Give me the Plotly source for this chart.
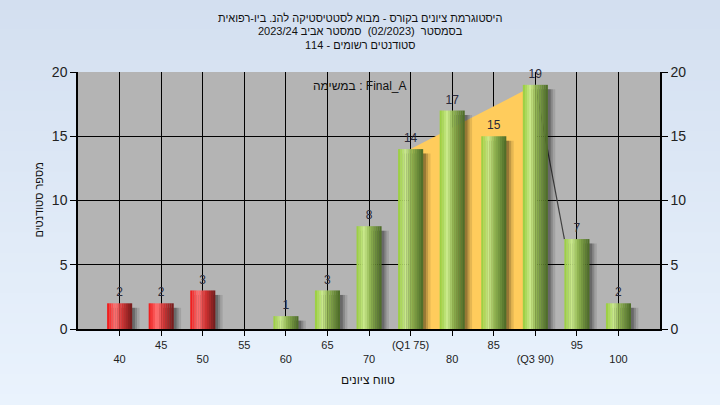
import plotly.graph_objects as go

# ---------------- data ----------------
grades = [40, 45, 50, 55, 60, 65, 70, 75, 80, 85, 90, 95, 100]
counts = [2, 2, 3, 0, 1, 3, 8, 14, 17, 15, 19, 7, 2]
tick_labels = ["40", "45", "50", "55", "60", "65", "70", "(Q1 75)", "80", "85", "(Q3 90)", "95", "100"]
q1_grade = 75
q3_grade = 90
pass_grade = 55

title_lines = [
    "היסטוגרמת ציונים בקורס - מבוא לסטטיסטיקה להנ. ביו-רפואית",
    "בסמסטר\u00a0\u00a0(02/2023)\u00a0\u00a0סמסטר אביב 2023/24",
    "סטודנטים רשומים - 114",
]
task_label = "במשימה : Final_A"
x_title = "טווח ציונים"
y_title = "מספר סטודנטים"

# ---------------- style ----------------
W, H = 720, 405
ML, MR, MT, MB = 78, 60, 72, 76
BAR_W = 3.0
N_STRIPS = 12
LABEL_PAD = 0.3

red_stops = [(0.0, (238, 18, 18)), (0.33, (255, 118, 118)), (0.6, (212, 52, 52)), (1.0, (112, 26, 26))]
green_stops = [(0.0, (150, 204, 58)), (0.3, (202, 234, 140)), (0.55, (142, 178, 80)), (1.0, (74, 104, 38))]


def grad(stops, t):
    for (p0, c0), (p1, c1) in zip(stops[:-1], stops[1:]):
        if p0 <= t <= p1:
            f = (t - p0) / (p1 - p0)
            c = [round(a + (b - a) * f) for a, b in zip(c0, c1)]
            return "rgb(%d,%d,%d)" % tuple(c)
    return "rgb(%d,%d,%d)" % stops[-1][1]


def rtl(s):
    # right-to-left embedding so the line is laid out as Hebrew text
    return "\u202b" + s + "\u202c"


fig = go.Figure()

# ---- IQR area (behind bars, on base subplot) ----
i1 = grades.index(q1_grade)
i3 = grades.index(q3_grade)
fig.add_trace(go.Scatter(
    x=[grades[i1], grades[i3]], y=[counts[i1], counts[i3]],
    mode="lines", line=dict(color="#ffcc5c", width=0),
    fill="tozeroy", fillcolor="#ffcc5c", hoverinfo="skip", showlegend=False,
    xaxis="x", yaxis="y"))

# ---- thin connector line after Q3 ----
fig.add_trace(go.Scatter(
    x=[grades[i3], grades[i3 + 1] - BAR_W / 2], y=[counts[i3], counts[i3 + 1]],
    mode="lines", line=dict(color="#404040", width=1.2),
    hoverinfo="skip", showlegend=False, xaxis="x", yaxis="y"))

# ---- shadows ----
for off, wd, alpha in [(0.9, 3.0, 0.10), (0.6, 3.0, 0.16), (0.35, 3.0, 0.22)]:
    fig.add_trace(go.Bar(
        x=grades, y=[max(c - 0.35, 0) for c in counts], base=0,
        width=wd, offset=-BAR_W / 2 + off,
        marker=dict(color="rgba(0,0,0,%.2f)" % alpha, line=dict(width=0)),
        hoverinfo="skip", showlegend=False, xaxis="x", yaxis="y2"))

# ---- bars as gradient strips ----
sw = BAR_W / N_STRIPS
for k in range(N_STRIPS):
    t = (k + 0.5) / N_STRIPS
    cols = [grad(red_stops, t) if g < pass_grade else grad(green_stops, t) for g in grades]
    fig.add_trace(go.Bar(
        x=grades, y=counts, width=sw * 1.06, offset=-BAR_W / 2 + k * sw,
        marker=dict(color=cols, line=dict(width=0)),
        hoverinfo="skip", showlegend=False, xaxis="x", yaxis="y2"))

# ---- value labels ----
lx = [g for g, c in zip(grades, counts) if c > 0]
ly = [c for c in counts if c > 0]
fig.add_trace(go.Scatter(
    x=lx, y=[c + LABEL_PAD for c in ly], text=[str(c) for c in ly], mode="text",
    textposition="top center", textfont=dict(size=12, color="#2a2a3a", family="Liberation Sans"),
    cliponaxis=False, hoverinfo="skip", showlegend=False, xaxis="x", yaxis="y2"))

# ---------------- background ----------------
shapes = []
NB = 40
top_c = (211, 223, 240)
bot_c = (234, 243, 253)
ph = H - MT - MB
pw = W - ML - MR
for i in range(NB):
    p0 = H * i / NB
    p1 = H * (i + 1) / NB
    f = (i + 0.5) / NB
    c = tuple(round(a + (b - a) * f) for a, b in zip(top_c, bot_c))
    shapes.append(dict(type="rect", xref="paper", yref="paper",
                       x0=-ML / pw - 0.01, x1=1 + MR / pw + 0.01,
                       y0=(H - MB - p1) / ph - 0.002, y1=(H - MB - p0) / ph + 0.002,
                       fillcolor="rgb(%d,%d,%d)" % c, line=dict(width=0), layer="below"))
shapes.append(dict(type="rect", xref="paper", yref="paper", x0=0, x1=1, y0=0, y1=1,
                   fillcolor="#b4b4b4", line=dict(width=0), layer="below"))

# ---------------- annotations ----------------
title_font = dict(size=11, color="#111", family="Liberation Sans")
txt_font = dict(size=12, color="#111", family="Liberation Sans")
annotations = []
for j, line in enumerate(title_lines):
    annotations.append(dict(
        text=rtl(line), xref="paper", yref="paper",
        x=(360 - ML) / pw, y=(H - MB - (18 + 13.5 * j)) / ph,
        xanchor="center", yanchor="middle", showarrow=False, font=title_font))
annotations.append(dict(
    text=task_label, xref="paper", yref="paper",
    x=(360 - ML) / pw, y=(H - MB - 86) / ph,
    xanchor="center", yanchor="middle", showarrow=False, font=txt_font))
annotations.append(dict(
    text=x_title, xref="paper", yref="paper",
    x=(368 - ML) / pw, y=(H - MB - 380) / ph,
    xanchor="center", yanchor="middle", showarrow=False, font=txt_font))
annotations.append(dict(
    text=y_title, xref="paper", yref="paper",
    x=(38 - ML) / pw, y=0.5, textangle=-90,
    xanchor="center", yanchor="middle", showarrow=False,
    font=dict(size=11, color="#111", family="Liberation Sans")))

ticktext = [("<br>" + t) if i % 2 == 0 else (t + "<br> ") for i, t in enumerate(tick_labels)]

axis_font = dict(size=14, color="#222", family="Liberation Sans")
fig.update_layout(
    width=W, height=H,
    margin=dict(l=ML, r=MR, t=MT, b=MB),
    paper_bgcolor="#e0e9f6", plot_bgcolor="rgba(0,0,0,0)",
    barmode="overlay", showlegend=False,
    shapes=shapes, annotations=annotations,
    xaxis=dict(range=[35, 105], tickmode="array", tickvals=grades, ticktext=ticktext,
               tickangle=0, showgrid=True, gridcolor="#000", gridwidth=1,
               showline=True, linecolor="#000", linewidth=1.5,
               ticks="outside", ticklen=5, tickcolor="#000",
               tickfont=dict(size=11, color="#222", family="Liberation Sans"),
               zeroline=False, fixedrange=True),
    yaxis=dict(range=[0, 20], dtick=5, showgrid=True, gridcolor="#000", gridwidth=1,
               showline=True, linecolor="#000", linewidth=1.5,
               ticks="outside", ticklen=6, tickcolor="#000", tickfont=axis_font,
               zeroline=False, fixedrange=True),
    yaxis2=dict(range=[0, 20], dtick=5, overlaying="y", side="right", showgrid=False,
                showline=True, linecolor="#000", linewidth=1.5,
                ticks="outside", ticklen=6, tickcolor="#000", tickfont=axis_font,
                zeroline=False, fixedrange=True),
)

fig.write_html("out.html", config={"displayModeBar": False},
               post_script="document.body.style.margin='0';")
